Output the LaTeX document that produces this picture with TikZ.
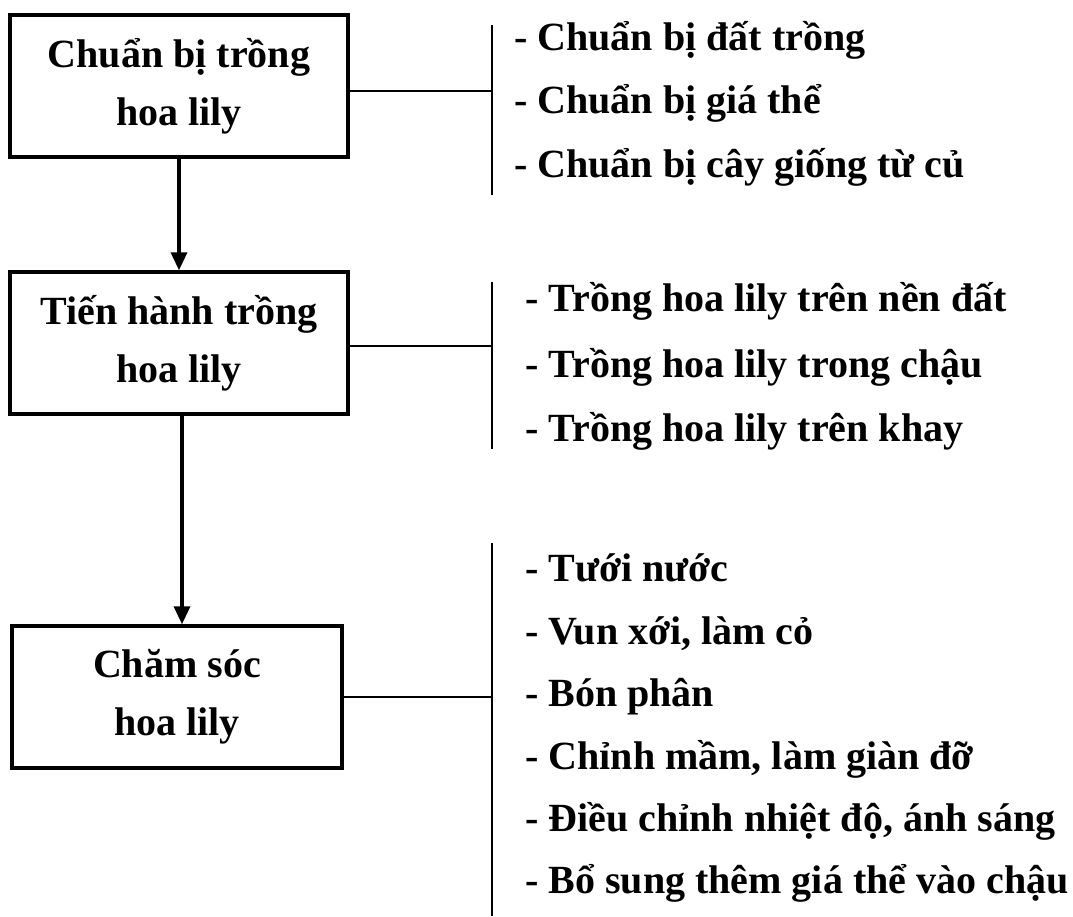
\documentclass[tikz,border=0pt]{standalone}
\usepackage{fontspec}
\setmainfont{Liberation Serif}
\usetikzlibrary{arrows.meta}
\tikzset{
    lab/.style={
        font=\bfseries\fontsize{40}{58}\selectfont
    }
}

\begin{document}
\begin{tikzpicture}[x=1pt,y=-1pt, line cap=butt, line join=miter]

% background
\useasboundingbox (0,0) rectangle (1073,916);

\tikzset{
  box/.style={draw=black, line width=3.4pt, minimum width=338pt, minimum height=142pt, inner sep=0pt, align=center, lab},
  link/.style={draw=black, line width=2.8pt},
  flow/.style={draw=black, line width=3.4pt, -{Triangle[length=18pt,width=16pt]}},
  item/.style={anchor=base west, inner sep=0pt, lab},
}

% boxes
\node[box] (b1) at (179,86) {Chuẩn bị trồng\\hoa lily};
\node[box] (b2) at (179,343) {Tiến hành trồng\\hoa lily};
\node[box, minimum width=330pt] (b3) at (177,697) {Chăm sóc\\hoa lily};

% bars
\coordinate (t1) at (492,25);
\coordinate (e1) at (492,195);
\coordinate (j1) at (492,91);

\coordinate (t2) at (492,282);
\coordinate (e2) at (492,449);
\coordinate (j2) at (492,346);

\coordinate (t3) at (492,543);
\coordinate (e3) at (492,916);
\coordinate (j3) at (492,697);

\draw[link] (t1) -- (e1);
\draw[link] (t2) -- (e2);
\draw[link] (t3) -- (e3);

\draw[link] (b1.east |- j1) -- (j1);
\draw[link] (b2.east |- j2) -- (j2);
\draw[link] (b3.east |- j3) -- (j3);

% arrows
\draw[flow] (b1.south) -- (b1.south |- b2.north);
\draw[flow] ([xshift=3pt]b2.south) -- ([xshift=3pt]b2.south |- b3.north);

% items
\node[item] (p1) at (514,50) {- Chuẩn bị đất trồng};
\node[item] (p2) at (514,113) {- Chuẩn bị giá thể};
\node[item] (p3) at (514,177) {- Chuẩn bị cây giống từ củ};

\node[item] (q1) at (525,311) {- Trồng hoa lily trên nền đất};
\node[item] (q2) at (525,377) {- Trồng hoa lily trong chậu};
\node[item] (q3) at (525,441) {- Trồng hoa lily trên khay};

\node[item] (r1) at (525,581) {- Tưới nước};
\node[item] (r2) at (525,644) {- Vun xới, làm cỏ};
\node[item] (r3) at (525,706) {- Bón phân};
\node[item] (r4) at (525,769) {- Chỉnh mầm, làm giàn đỡ};
\node[item] (r5) at (525,831) {- Điều chỉnh nhiệt độ, ánh sáng};
\node[item] (r6) at (525,893) {- Bổ sung thêm giá thể vào chậu};

\end{tikzpicture}
\end{document}
